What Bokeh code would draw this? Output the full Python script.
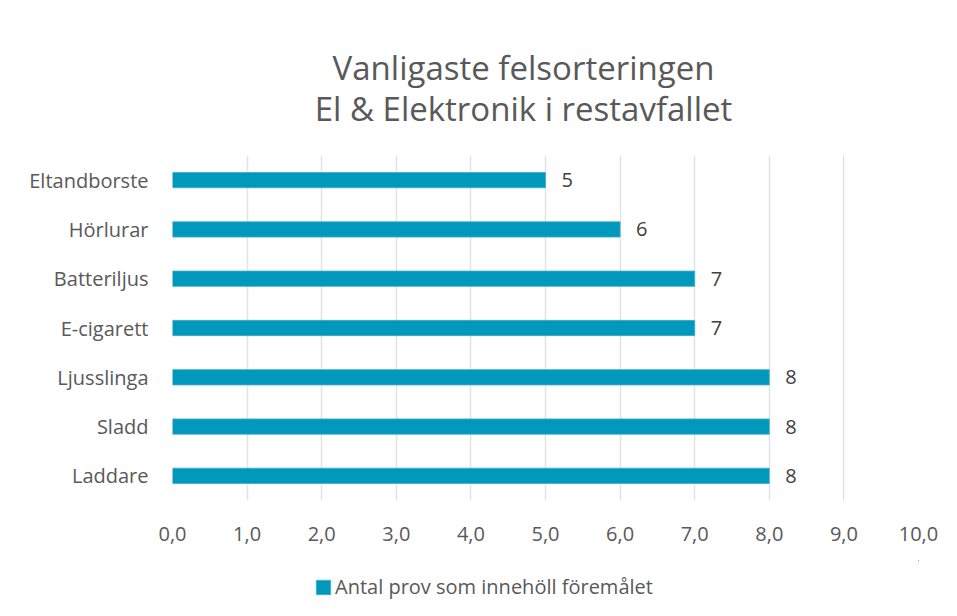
from bokeh.plotting import figure
from bokeh.layouts import column
from bokeh.models import Range1d, FixedTicker, Label, Legend, LegendItem, ColumnDataSource
from bokeh.core.properties import value
from bokeh.embed import file_html
from bokeh.resources import INLINE

title_lines = ["Vanligaste felsorteringen", "El & Elektronik i restavfallet"]
categories = ["Eltandborste", "Hörlurar", "Batteriljus", "E-cigarett", "Ljusslinga", "Sladd", "Laddare"]
counts = [5, 6, 7, 7, 8, 8, 8]
x_ticks = [0, 1, 2, 3, 4, 5, 6, 7, 8, 9, 10]
x_tick_labels = ["0,0", "1,0", "2,0", "3,0", "4,0", "5,0", "6,0", "7,0", "8,0", "9,0", "10,0"]
series_name = "Antal prov som innehöll föremålet"

FONT = "Open Sans"
TXT = "#595959"
BAR = "#0099BB"
EDGE = "#3FADC9"

src = ColumnDataSource(dict(cat=categories, val=counts, lab=[str(v) for v in counts]))


def blank_strip(h):
    f = figure(width=957, height=h, x_range=Range1d(0, 1), y_range=Range1d(0, 1),
               x_axis_type=None, y_axis_type=None, output_backend="svg",
               toolbar_location=None, min_border=0, title=None)
    f.outline_line_color = None
    f.xgrid.visible = False
    f.ygrid.visible = False
    return f


# title strip
head = blank_strip(155)
for txt, ys in zip(title_lines, [88, 47]):
    head.add_layout(Label(x=351, y=ys, x_units="screen", y_units="screen", text=txt,
                          text_align="center", text_baseline="middle",
                          text_font=FONT, text_font_size="33px", text_color=TXT))

# main chart
fig = figure(
    y_range=list(reversed(categories)),
    x_range=Range1d(0, 10),
    frame_width=746, frame_height=345, title=None,
    output_backend="svg", toolbar_location=None,
    min_border_left=172, min_border_right=39, min_border_top=0, min_border_bottom=60,
)
fig.outline_line_color = None
fig.background_fill_color = "white"
fig.border_fill_color = "white"

fig.hbar(y="cat", right="val", left=0, height=0.31, source=src,
         fill_color=BAR, line_color=EDGE, line_width=0.8)

fig.text(x="val", y="cat", text="lab", source=src, x_offset=16, text_baseline="middle",
         text_font=value(FONT), text_font_size="20px", text_color="#404040")

fig.xaxis.ticker = FixedTicker(ticks=x_ticks)
fig.xaxis.major_label_overrides = {t: l for t, l in zip(x_ticks, x_tick_labels)}
for ax in (fig.xaxis[0], fig.yaxis[0]):
    ax.axis_line_color = None
    ax.major_tick_line_color = None
    ax.minor_tick_line_color = None
    ax.major_label_text_font = FONT
    ax.major_label_text_font_size = "20px"
    ax.major_label_text_color = TXT
fig.xaxis.major_label_standoff = 20
fig.yaxis.major_label_standoff = 18

fig.xgrid.grid_line_color = "#e3e3e3"
fig.xgrid.grid_line_width = 1.5
fig.ygrid.grid_line_color = None

# legend strip below the chart (swatch renderer lies outside the strip's visible range)
leg = blank_strip(56)
swatch = leg.hbar(y="val", right="val", left="val", height=0.31, source=src,
                  fill_color=BAR, line_color=EDGE, line_width=0.8)
legend = Legend(items=[LegendItem(label=series_name, renderers=[swatch])],
                orientation="horizontal", location=(142, 16),
                label_text_font=FONT, label_text_font_size="20px", label_text_color=TXT,
                glyph_width=18, glyph_height=18, label_standoff=3,
                border_line_color=None, background_fill_alpha=0, margin=0, padding=0)
leg.add_layout(legend)

p = column(head, fig, leg, spacing=0)

open("out.html", "w").write(file_html(p, INLINE))
